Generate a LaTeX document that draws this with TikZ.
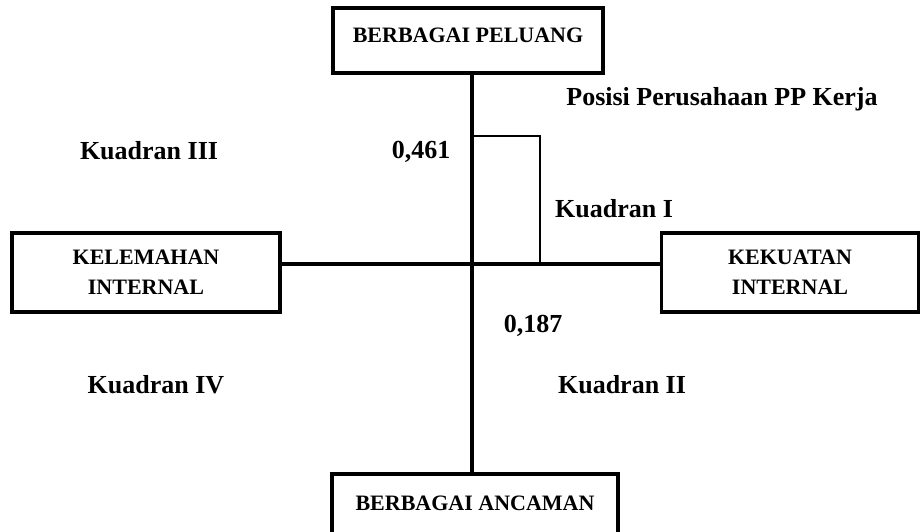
\documentclass[tikz,border=0pt]{standalone}
\usepackage{fontspec}
\setmainfont{Liberation Serif}

\tikzset{
  kotak/.style={draw, line width=3.5pt, inner sep=0pt, align=center,
    font=\fontsize{22}{30}\selectfont\bfseries},
  teks/.style={anchor=base, inner sep=0pt, font=\fontsize{26}{30}\selectfont\bfseries},
  sumbu/.style={line width=4pt},
  posisi/.style={line width=1.3pt}
}

\begin{document}
\begin{tikzpicture}[x=1pt,y=-1pt]
\useasboundingbox (0,0) rectangle (920,531);
\clip (0,0) rectangle (920,531);

\coordinate (o) at (472,264);

% kotak
\node[kotak, minimum width=270pt, minimum height=65pt, text depth=11.5pt] (peluang) at (468,40.5) {BERBAGAI PELUANG};
\node[kotak, minimum width=286pt, minimum height=65pt, text depth=7pt] (ancaman) at (475,506.5) {BERBAGAI ANCAMAN};
\node[kotak, minimum width=268pt, minimum height=79pt] (kelemahan) at (146,272.5) {KELEMAHAN\\INTERNAL};
\node[kotak, minimum width=257pt, minimum height=79pt] (kekuatan) at (790,272.5) {KEKUATAN\\INTERNAL};

% sumbu
\draw[sumbu] (peluang.south -| o) -- (ancaman.north -| o);
\draw[sumbu] (kelemahan.east |- o) -- (kekuatan.west |- o);
\draw[posisi] (o) -- ++(0,-128) -- ++(68,0) -- ++(0,128);

% label
\node[teks] (posisiPP) at (722,105) {Posisi Perusahaan PP Kerja};
\node[teks] (kuadran3) at (149,159) {Kuadran III};
\node[teks] (nilaiO) at (421,158) {0,461};
\node[teks] (kuadran1) at (614,217) {Kuadran I};
\node[teks] (nilaiT) at (533,332) {0,187};
\node[teks] (kuadran4) at (156,393) {Kuadran IV};
\node[teks] (kuadran2) at (622,393) {Kuadran II};

\end{tikzpicture}
\end{document}
